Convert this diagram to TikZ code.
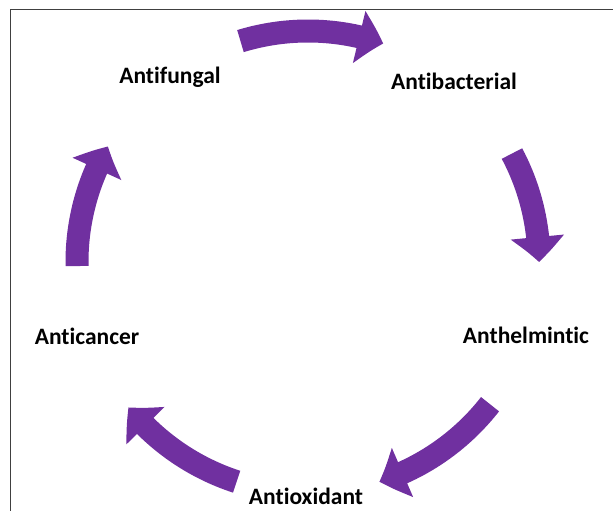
\documentclass[tikz,border=0pt]{standalone}
\usepackage{fontspec}
\setmainfont[Ligatures=NoCommon]{Carlito}
\usetikzlibrary{arrows.meta, bending}
\definecolor{cycpurple}{HTML}{7030A0}

\begin{document}
\begin{tikzpicture}[x=1pt, y=1pt, line join=miter,
	lab/.style={font=\bfseries\fontsize{23.5}{28}\selectfont, inner sep=0pt},
	cycarrow/.style={cycpurple, line width=23pt, -{Triangle[length=25pt, width=52pt, bend]}}]
	\useasboundingbox (0,0) rectangle (613,-511);
	\clip (0,0) rectangle (613,-511);

	% Рамка
	\draw[black!75, line width=1pt] (10,-10) rectangle (650,-560);

	% Центр круга
	\coordinate (c) at (308,-262);

	% Подписи
	\node[lab] (fungal) at (170,-77) {Antifungal};
	\node[lab] (bacterial) at (454,-81) {Antibacterial};
	\node[lab] (helmintic) at (526,-335) {Anthelmintic};
	\node[lab] (oxidant) at (306,-496) {Antioxidant};
	\node[lab] (cancer) at (87,-336) {Anticancer};

	% Стрелки по кругу
	\foreach \a/\b in {107/71, 28/0, -38/-72, -108/-141, 181/150} {
		\draw[cycarrow] ([shift={(c)}]\a:231) arc[start angle=\a, end angle=\b, radius=231];
	}
\end{tikzpicture}
\end{document}
